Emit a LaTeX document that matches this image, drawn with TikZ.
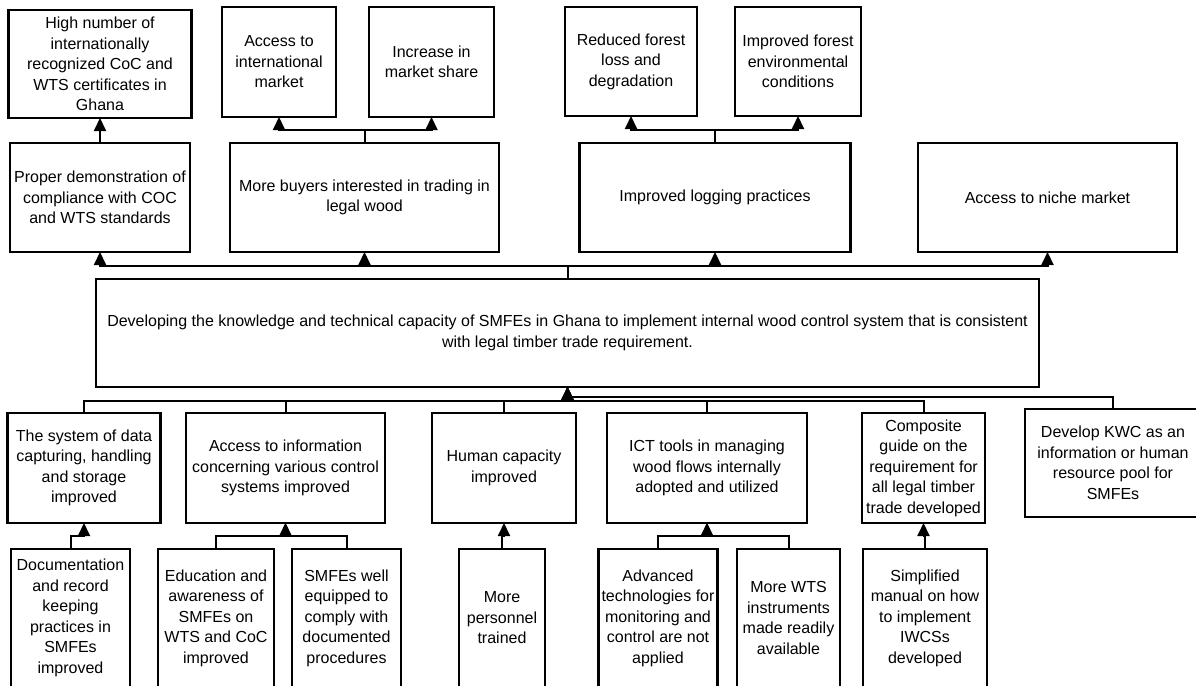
\documentclass[tikz,border=0pt]{standalone}
\usepackage{fontspec}
\setmainfont{Liberation Sans}
\usetikzlibrary{arrows.meta}

\begin{document}
\begin{tikzpicture}[x=1pt,y=-1pt,
  box/.style={draw,line width=2.2pt,align=center,inner sep=2pt,outer sep=0pt,
    font=\fontsize{16}{20.5}\selectfont},
  arr/.style={line width=2pt,-{Triangle[width=12pt,length=13pt]}}]
  \useasboundingbox (0,0) rectangle (1196,685);
  \clip (0,0) rectangle (1196,685);
  % top row
  \node[box,minimum width=183pt,minimum height=108pt] (certs) at (100,64) {High number of\\internationally\\recognized CoC and\\WTS certificates in\\Ghana};
  \node[box,minimum width=114pt,minimum height=110pt] (intmkt) at (279,62) {Access to\\international\\market};
  \node[box,minimum width=125pt,minimum height=110pt] (mktshare) at (431.5,62) {Increase in\\market share};
  \node[box,minimum width=132pt,minimum height=109pt] (forestloss) at (631,61.5) {Reduced forest\\loss and\\degradation};
  \node[box,minimum width=126pt,minimum height=109pt] (forestenv) at (798,61.5) {Improved forest\\environmental\\conditions};
  % second row
  \node[box,minimum width=180pt,minimum height=109pt] (compliance) at (100,197.5) {Proper demonstration of\\compliance with COC\\and WTS standards};
  \node[box,minimum width=269pt,minimum height=109pt] (buyers) at (364.5,197.5) {More buyers interested in trading in\\legal wood};
  \node[box,minimum width=271pt,minimum height=109pt] (logging) at (715,197.5) {Improved logging practices};
  \node[box,minimum width=259pt,minimum height=109pt] (niche) at (1047.5,197.5) {Access to niche market};
  % goal
  \node[box,minimum width=943pt,minimum height=108pt] (goal) at (567.5,333) {Developing the knowledge and technical capacity of SMFEs in Ghana to implement internal wood control system that is consistent\\with legal timber trade requirement.};
  % third row
  \node[box,minimum width=153pt,minimum height=110pt] (datasys) at (84,468) {The system of data\\capturing, handling\\and storage\\improved};
  \node[box,minimum width=199pt,minimum height=110pt] (infoacc) at (285.5,468) {Access to information\\concerning various control\\systems improved};
  \node[box,minimum width=144pt,minimum height=110pt] (humcap) at (504,468) {Human capacity\\improved};
  \node[box,minimum width=200pt,minimum height=110pt] (ict) at (707,468) {ICT tools in managing\\wood flows internally\\adopted and utilized};
  \node[box,minimum width=123pt,minimum height=110pt] (guide) at (923.5,468) {Composite\\guide on the\\requirement for\\all legal timber\\trade developed};
  \node[box,minimum width=176pt,minimum height=108pt] (kwc) at (1113,463) {Develop KWC as an\\information or human\\resource pool for\\SMFEs};
  % bottom row
  \node[box,minimum width=119pt,minimum height=138pt] (docu) at (70.5,618) {Documentation\\and record\\keeping\\practices in\\SMFEs\\improved};
  \node[box,minimum width=116pt,minimum height=138pt] (educ) at (216,618) {Education and\\awareness of\\SMFEs on\\WTS and CoC\\improved};
  \node[box,minimum width=109pt,minimum height=138pt] (equip) at (346.5,618) {SMFEs well\\equipped to\\comply with\\documented\\procedures};
  \node[box,minimum width=86pt,minimum height=138pt] (personnel) at (502,618) {More\\personnel\\trained};
  \node[box,minimum width=119pt,minimum height=138pt] (advtech) at (658,618) {Advanced\\technologies for\\monitoring and\\control are not\\applied};
  \node[box,minimum width=103pt,minimum height=138pt] (wtsinst) at (788.5,618) {More WTS\\instruments\\made readily\\available};
  \node[box,minimum width=124pt,minimum height=138pt] (manual) at (925,618) {Simplified\\manual on how\\to implement\\IWCSs\\developed};
  % links to top row
  \draw[arr] (compliance.north) -- (certs.south);
  \draw[arr] (buyers.north) -- ++(0,-13) -| (intmkt.south);
  \draw[arr] (buyers.north) -- ++(0,-13) -| (mktshare.south);
  \draw[arr] (logging.north) -- ++(0,-13) -| (forestloss.south);
  \draw[arr] (logging.north) -- ++(0,-13) -| (forestenv.south);
  % goal to second row
  \foreach \n in {compliance,buyers,logging,niche}
    \draw[arr] (goal.north) -- ++(0,-13) -| (\n.south);
  % third row to goal
  \foreach \n in {datasys,infoacc,humcap,ict,guide,kwc}
    \draw[arr] (\n.north) -- ++(0,-12) -| (goal.south);
  % bottom row to third row
  \draw[arr] (docu.north) -- ++(0,-13) -| (datasys.south);
  \draw[arr] (educ.north) -- ++(0,-13) -| (infoacc.south);
  \draw[arr] (equip.north) -- ++(0,-13) -| (infoacc.south);
  \draw[arr] (personnel.north) -- ++(0,-13) -| (humcap.south);
  \draw[arr] (advtech.north) -- ++(0,-13) -| (ict.south);
  \draw[arr] (wtsinst.north) -- ++(0,-13) -| (ict.south);
  \draw[arr] (manual.north) -- ++(0,-13) -| (guide.south);
\end{tikzpicture}
\end{document}
